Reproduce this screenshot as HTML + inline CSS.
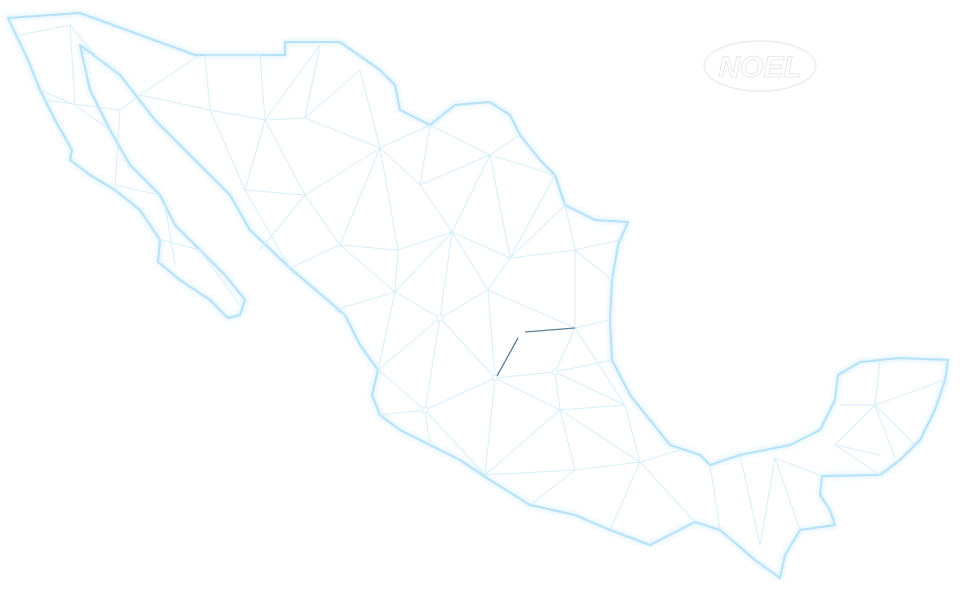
<!DOCTYPE html>
<html><head><meta charset="utf-8"><style>
html,body{margin:0;padding:0;background:#fff;width:963px;height:593px;overflow:hidden}
</style></head><body>
<svg width="963" height="593" viewBox="0 0 963 593" xmlns="http://www.w3.org/2000/svg">
<defs><filter id="g" x="-5%" y="-5%" width="110%" height="110%"><feGaussianBlur stdDeviation="2.5"/></filter></defs>
<g fill="none" stroke-linejoin="round">
<path d="M8,18 L80,13 L195,55 L285,55 L285,42 L340,42 L380,70 L395,85 L400,110 L430,125 L455,105 L490,102 L510,115 L520,135 L540,160 L555,175 L565,205 L595,220 L628,222 L618,245 L612,280 L610,320 L612,360 L630,395 L650,420 L670,445 L700,455 L710,465 L740,455 L790,445 L820,430 L835,400 L838,375 L860,362 L900,358 L948,360 L945,380 L935,410 L920,440 L900,460 L880,475 L822,476 L820,495 L830,510 L835,525 L800,530 L785,555 L780,578 L755,560 L720,530 L695,522 L650,545 L610,530 L575,515 L530,505 L490,480 L460,460 L430,445 L400,430 L380,415 L372,395 L378,370 L360,345 L345,315 L290,268 L250,230 L230,195 L205,170 L155,120 L120,75 L80,45 L90,90 L110,130 L130,165 L160,195 L175,225 L200,250 L225,275 L245,300 L240,315 L228,318 L210,300 L180,280 L158,262 L160,240 L140,210 L115,190 L90,175 L70,160 L72,150 L55,120 L40,90 L28,60 Z" stroke="#e0f3fc" stroke-width="5" filter="url(#g)"/>
<path d="M8,18 L80,13 L195,55 L285,55 L285,42 L340,42 L380,70 L395,85 L400,110 L430,125 L455,105 L490,102 L510,115 L520,135 L540,160 L555,175 L565,205 L595,220 L628,222 L618,245 L612,280 L610,320 L612,360 L630,395 L650,420 L670,445 L700,455 L710,465 L740,455 L790,445 L820,430 L835,400 L838,375 L860,362 L900,358 L948,360 L945,380 L935,410 L920,440 L900,460 L880,475 L822,476 L820,495 L830,510 L835,525 L800,530 L785,555 L780,578 L755,560 L720,530 L695,522 L650,545 L610,530 L575,515 L530,505 L490,480 L460,460 L430,445 L400,430 L380,415 L372,395 L378,370 L360,345 L345,315 L290,268 L250,230 L230,195 L205,170 L155,120 L120,75 L80,45 L90,90 L110,130 L130,165 L160,195 L175,225 L200,250 L225,275 L245,300 L240,315 L228,318 L210,300 L180,280 L158,262 L160,240 L140,210 L115,190 L90,175 L70,160 L72,150 L55,120 L40,90 L28,60 Z" stroke="#b5e2f7" stroke-width="2"/>
<g stroke="#d6eef9" stroke-width="1">
<path d="M20,35 L70,25 L95,55 M70,25 L75,105 L40,90 M75,105 L110,130 M45,100 L120,110 L115,185 M120,110 L140,95 L200,55 M140,95 L210,110 L205,55 L260,55 L265,120 L210,110 M265,120 L320,45 L305,118 L265,120 M305,118 L360,70 L380,148 L305,118 M210,110 L245,190 L265,120 M245,190 L305,195 L265,120 M305,195 L380,148 L340,245 L305,195 M245,190 L290,268 M305,195 L260,250 M340,245 L290,268 M380,148 L398,250 L340,245 M380,148 L430,125 L420,185 L380,148 M420,185 L490,155 L430,125 M490,155 L520,135 M420,185 L452,232 L398,250 M452,232 L490,155 L510,258 L452,232 M490,155 L555,175 L510,258 M510,258 L565,205 L575,250 L510,258 M575,250 L620,240 M575,250 L612,280 M510,258 L488,290 L452,232 M398,250 L395,292 L340,245 M395,292 L452,232 L440,318 L395,292 M488,290 L440,318 M488,290 L575,328 L610,320 M575,328 L575,250 M488,290 L495,378 L440,318 M395,292 L335,310 L345,315 M395,292 L378,370 L440,318 L425,410 L378,370 M440,318 L495,378 L425,410 L380,415 M495,378 L555,372 L575,328 M555,372 L612,360 M555,372 L560,410 L495,378 M560,410 L625,405 L555,372 M625,405 L575,328 M495,378 L485,475 L425,410 L430,445 M485,475 L560,410 L575,470 L485,475 M560,410 L640,462 L625,405 M575,470 L640,462 L610,530 M575,470 L530,505 M640,462 L695,522 M640,462 L680,450 M710,465 L720,530 M740,455 L760,545 L775,458 L800,530 M775,458 L822,476 M840,405 L875,405 L880,362 M875,405 L945,380 M875,405 L915,445 M875,405 L835,445 L880,475 M875,405 L895,458 M835,445 L880,455 M115,185 L160,195 M155,238 L200,250 M165,205 L175,265 M200,250 L240,305"/>
</g>
<g stroke="#5a7f98" stroke-width="1.3"><path d="M525,332 L575,328 M518,338 L497,376"/></g>
<g fill="#fff" stroke="#d6eef9"><circle cx="440" cy="318" r="3"/><circle cx="555" cy="372" r="3"/><circle cx="495" cy="378" r="2.5"/><circle cx="425" cy="410" r="3"/></g>
<ellipse cx="760" cy="66" rx="56" ry="25" stroke="#ececec" stroke-width="1.5"/>
<text x="760" y="77" text-anchor="middle" font-family="Liberation Sans, sans-serif" font-size="30" font-weight="bold" font-style="italic" fill="#fff" stroke="#e8e8e8" stroke-width="1">NOEL</text>
</g>
</svg>
</body></html>
